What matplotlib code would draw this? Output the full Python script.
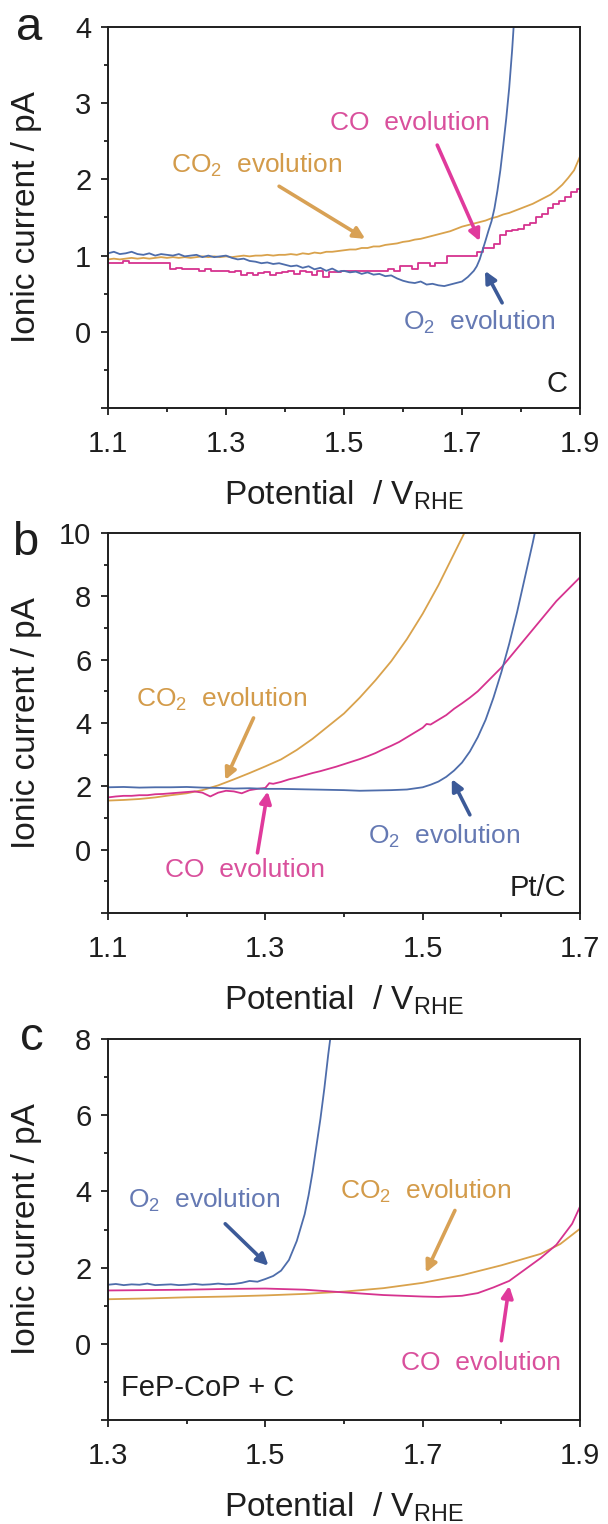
import matplotlib
matplotlib.use("Agg")
import matplotlib.pyplot as plt
import numpy as np
from matplotlib.ticker import FuncFormatter

plt.rcParams["font.family"] = ["Liberation Sans", "DejaVu Sans"]
plt.rcParams["mathtext.fontset"] = "custom"
plt.rcParams["mathtext.rm"] = "Liberation Sans"
plt.rcParams["mathtext.it"] = "Liberation Sans"

# colours of the three mass signals
BLUE, ORANGE, PINK = "#4e6dab", "#d9a24c", "#d6338f"
BLUE_ARR, ORANGE_ARR, PINK_ARR = "#3c5a98", "#d8a155", "#e03a9c"
BLUE_TXT, ORANGE_TXT, PINK_TXT = "#6579b3", "#d39b4a", "#d9509c"
INK = "#1e1e1e"

# ---------------- panel a : C ----------------
a_x = [round(1.10 + 0.01 * i, 2) for i in range(81)]
a_co2 = [0.95, 0.96, 0.95, 0.96, 0.97, 0.96, 0.97, 0.96, 0.97, 0.98,
         0.97, 0.98, 0.97, 0.98, 0.97, 0.98, 0.99, 0.98, 0.99, 0.98,
         0.99, 0.98, 0.99, 1.00, 0.99, 1.00, 1.00, 1.01, 1.00, 1.01,
         1.01, 1.02, 1.01, 1.03, 1.02, 1.04, 1.03, 1.05, 1.05, 1.06,
         1.07, 1.08, 1.08, 1.10, 1.10, 1.12, 1.12, 1.14, 1.15, 1.16,
         1.18, 1.19, 1.21, 1.22, 1.24, 1.26, 1.28, 1.30, 1.32, 1.35,
         1.38, 1.40, 1.42, 1.44, 1.46, 1.49, 1.51, 1.54, 1.56, 1.59,
         1.62, 1.65, 1.68, 1.72, 1.76, 1.80, 1.86, 1.93, 2.02, 2.12,
         2.30]
a_co = [0.90, 0.90, 0.90, 0.93, 0.90, 0.90, 0.90, 0.90, 0.90, 0.90,
        0.90, 0.82, 0.84, 0.82, 0.82, 0.83, 0.80, 0.82, 0.80, 0.80,
        0.80, 0.78, 0.80, 0.75, 0.77, 0.74, 0.77, 0.78, 0.74, 0.77,
        0.78, 0.80, 0.76, 0.80, 0.78, 0.75, 0.80, 0.72, 0.78, 0.78,
        0.80, 0.80, 0.80, 0.80, 0.80, 0.80, 0.80, 0.80, 0.83, 0.80,
        0.86, 0.86, 0.83, 0.90, 0.90, 0.86, 0.90, 0.90, 1.00, 1.00,
        1.00, 1.00, 1.00, 1.05, 1.10, 1.10, 1.15, 1.27, 1.32, 1.33,
        1.35, 1.40, 1.43, 1.50, 1.55, 1.62, 1.68, 1.72, 1.77, 1.84,
        1.88]
a_o2_x = [round(1.10 + 0.01 * i, 2) for i in range(63)] + [
    1.725, 1.73, 1.736, 1.74, 1.745, 1.75, 1.755, 1.76, 1.765, 1.77,
    1.775, 1.78, 1.785, 1.79]
a_o2 = [1.03, 1.05, 1.02, 1.03, 1.05, 1.02, 1.01, 1.03, 1.00, 1.02,
        1.01, 1.00, 1.02, 0.99, 1.00, 1.01, 0.98, 1.00, 0.98, 0.99,
        1.00, 0.97, 0.95, 0.96, 0.93, 0.92, 0.90, 0.91, 0.89, 0.90,
        0.88, 0.86, 0.87, 0.84, 0.86, 0.82, 0.84, 0.80, 0.83, 0.79,
        0.80, 0.78, 0.79, 0.76, 0.78, 0.75, 0.76, 0.73, 0.74, 0.70,
        0.67, 0.65, 0.64, 0.66, 0.62, 0.63, 0.61, 0.60, 0.62, 0.64,
        0.66, 0.72, 0.80,
        0.86, 0.95, 1.10, 1.20, 1.33, 1.45, 1.62, 1.85, 2.12, 2.45,
        2.80, 3.20, 3.70, 4.30]

# ---------------- panel b : Pt/C ----------------
b_co2_x = [1.10, 1.12, 1.14, 1.16, 1.18, 1.20, 1.22, 1.24, 1.26, 1.28,
           1.30, 1.32, 1.34, 1.36, 1.38, 1.40, 1.42, 1.44, 1.46, 1.48,
           1.50, 1.52, 1.54, 1.555]
b_co2 = [1.55, 1.57, 1.60, 1.65, 1.72, 1.78, 1.88, 2.03, 2.22, 2.42,
         2.63, 2.85, 3.15, 3.50, 3.90, 4.30, 4.80, 5.35, 5.95, 6.65,
         7.45, 8.35, 9.35, 10.10]
b_co_x = [1.10, 1.11, 1.12, 1.13, 1.14, 1.15, 1.16, 1.17, 1.18, 1.19,
          1.20, 1.21, 1.22, 1.23, 1.24, 1.25, 1.26, 1.27, 1.28, 1.29,
          1.30, 1.305, 1.31, 1.32, 1.33, 1.34, 1.35, 1.36, 1.37, 1.38,
          1.39, 1.40, 1.41, 1.42, 1.43, 1.44, 1.45, 1.46, 1.47, 1.48,
          1.49, 1.50, 1.505, 1.51, 1.52, 1.53, 1.54, 1.55, 1.56, 1.57,
          1.58, 1.59, 1.60, 1.61, 1.62, 1.63, 1.64, 1.65, 1.66, 1.67,
          1.68, 1.69, 1.70]
b_co = [1.65, 1.68, 1.70, 1.70, 1.72, 1.72, 1.75, 1.76, 1.78, 1.80,
        1.82, 1.84, 1.80, 1.68, 1.80, 1.86, 1.84, 1.78, 1.88, 1.92,
        1.95, 2.10, 2.08, 2.14, 2.22, 2.28, 2.35, 2.42, 2.48, 2.55,
        2.62, 2.70, 2.78, 2.86, 2.95, 3.05, 3.17, 3.28, 3.40, 3.55,
        3.70, 3.85, 3.97, 3.95, 4.10, 4.25, 4.45, 4.62, 4.80, 5.00,
        5.25, 5.50, 5.75, 6.05, 6.35, 6.65, 6.95, 7.25, 7.55, 7.85,
        8.10, 8.35, 8.60]
b_o2_x = [1.10, 1.12, 1.14, 1.16, 1.18, 1.20, 1.22, 1.24, 1.26, 1.28,
          1.30, 1.32, 1.34, 1.36, 1.38, 1.40, 1.42, 1.44, 1.46, 1.48,
          1.50, 1.51, 1.52, 1.53, 1.54, 1.55, 1.56, 1.57, 1.58, 1.59,
          1.60, 1.61, 1.62, 1.63, 1.64, 1.645]
b_o2 = [1.97, 1.98, 1.96, 1.97, 1.97, 1.98, 1.96, 1.95, 1.93, 1.94,
        1.92, 1.92, 1.91, 1.90, 1.89, 1.88, 1.86, 1.87, 1.88, 1.90,
        1.97, 2.05, 2.15, 2.30, 2.50, 2.75, 3.10, 3.55, 4.10, 4.80,
        5.60, 6.50, 7.50, 8.60, 9.70, 10.30]

# ---------------- panel c : FeP-CoP + C ----------------
c_o2_x = [1.30, 1.31, 1.32, 1.33, 1.34, 1.35, 1.36, 1.37, 1.38, 1.39,
          1.40, 1.41, 1.42, 1.43, 1.44, 1.45, 1.46, 1.47, 1.48, 1.49,
          1.50, 1.51, 1.52, 1.53, 1.54, 1.55, 1.555, 1.56, 1.565, 1.57,
          1.575, 1.58, 1.585]
c_o2 = [1.55, 1.57, 1.54, 1.56, 1.55, 1.58, 1.54, 1.55, 1.56, 1.54,
        1.55, 1.57, 1.55, 1.56, 1.58, 1.56, 1.57, 1.60, 1.65, 1.63,
        1.70, 1.78, 1.92, 2.20, 2.70, 3.40, 3.90, 4.50, 5.20, 5.90,
        6.70, 7.60, 8.40]
c_co2_x = [1.30, 1.35, 1.40, 1.45, 1.50, 1.55, 1.60, 1.65, 1.70, 1.75,
           1.80, 1.85, 1.875, 1.90]
c_co2 = [1.17, 1.19, 1.22, 1.24, 1.27, 1.31, 1.37, 1.46, 1.60, 1.80,
         2.06, 2.36, 2.62, 3.02]
c_co_x = [1.30, 1.35, 1.40, 1.45, 1.50, 1.55, 1.60, 1.65, 1.70, 1.72,
          1.75, 1.77, 1.79, 1.81, 1.83, 1.85, 1.87, 1.89, 1.90]
c_co = [1.40, 1.41, 1.42, 1.44, 1.45, 1.42, 1.35, 1.28, 1.24, 1.23,
        1.26, 1.33, 1.48, 1.65, 1.95, 2.25, 2.60, 3.15, 3.60]

W, H = 608, 1524
fig = plt.figure(figsize=(W / 100, H / 100), dpi=100)


def add_panel(left, top, right, bottom):
    return fig.add_axes([left / W, 1 - bottom / H, (right - left) / W, (bottom - top) / H])


def style(ax, xlim, ylim, ystep):
    ax.set_xlim(*xlim)
    ax.set_ylim(*ylim)
    xmaj = np.arange(xlim[0], xlim[1] + 1e-6, 0.2)
    ax.set_xticks(xmaj)
    ax.set_xticks(xmaj[:-1] + 0.1, minor=True)
    ymaj = np.arange(ylim[0], ylim[1] + 1e-6, ystep)
    ax.set_yticks(ymaj)
    ax.set_yticks(ymaj[:-1] + ystep / 2, minor=True)
    ax.xaxis.set_major_formatter(FuncFormatter(lambda v, p: f"{v:.1f}"))
    ax.yaxis.set_major_formatter(
        FuncFormatter(lambda v, p: "" if v < -1e-9 else f"{v:.0f}"))
    ax.tick_params(which="both", direction="out", colors=INK, width=1.3)
    ax.tick_params(which="major", length=5, labelsize=21)
    ax.tick_params(which="minor", length=3)
    ax.tick_params(axis="x", which="major", pad=11)
    ax.tick_params(axis="y", which="major", pad=7)
    for s in ax.spines.values():
        s.set_linewidth(1.4)
        s.set_color(INK)
    ax.set_ylabel("Ionic current / pA", fontsize=24, color=INK)
    ax.set_xlabel(r"Potential  / V$_\mathregular{RHE}$", fontsize=24, color=INK)
    ax.yaxis.set_label_coords(-0.14, 0.5)
    ax.xaxis.set_label_coords(0.5, -0.185)


def note(ax, text, x, y, color):
    ax.text(x, y, text, color=color, fontsize=19, ha="left", va="center")


def arrow(ax, tail, head, color):
    ax.annotate("", xy=head, xytext=tail,
                arrowprops=dict(arrowstyle="-|>", color=color, lw=2.6,
                                mutation_scale=17, shrinkA=0, shrinkB=0))


lw = 1.3

# panel a
ax = add_panel(108, 27, 580, 408)
ax.plot(a_x, a_co2, color=ORANGE, lw=lw)
ax.plot(a_x, a_co, color=PINK, lw=lw, drawstyle="steps-mid")
ax.plot(a_o2_x, a_o2, color=BLUE, lw=lw)
style(ax, (1.1, 1.9), (-1, 4), 1)
note(ax, "CO$_2$  evolution", 1.206, 2.18, ORANGE_TXT)
note(ax, "CO  evolution", 1.476, 2.74, PINK_TXT)
note(ax, "O$_2$  evolution", 1.60, 0.12, BLUE_TXT)
arrow(ax, (1.39, 1.91), (1.536, 1.22), ORANGE_ARR)
arrow(ax, (1.658, 2.45), (1.73, 1.19), PINK_ARR)
arrow(ax, (1.768, 0.38), (1.739, 0.80), BLUE_ARR)
ax.text(1.878, -0.68, "C", fontsize=21, color=INK, ha="right", va="center")
fig.text(16 / W, 1 - 40 / H, "a", fontsize=34, color=INK, ha="left", va="baseline")

# panel b
ax = add_panel(108, 533, 580, 913)
ax.plot(b_co2_x, b_co2, color=ORANGE, lw=lw)
ax.plot(b_co_x, b_co, color=PINK, lw=lw)
ax.plot(b_o2_x, b_o2, color=BLUE, lw=lw)
style(ax, (1.1, 1.7), (-2, 10), 2)
note(ax, "CO$_2$  evolution", 1.135, 4.74, ORANGE_TXT)
note(ax, "CO  evolution", 1.172, -0.63, PINK_TXT)
note(ax, "O$_2$  evolution", 1.43, 0.42, BLUE_TXT)
arrow(ax, (1.285, 4.16), (1.249, 2.2), ORANGE_ARR)
arrow(ax, (1.29, -0.1), (1.303, 1.84), PINK_ARR)
arrow(ax, (1.56, 1.1), (1.537, 2.23), BLUE_ARR)
ax.text(1.683, -1.21, "Pt/C", fontsize=21, color=INK, ha="right", va="center")
fig.text(12 / W, 1 - 555 / H, "b", fontsize=34, color=INK, ha="left", va="baseline")

# panel c
ax = add_panel(108, 1039, 580, 1420)
ax.plot(c_co2_x, c_co2, color=ORANGE, lw=lw)
ax.plot(c_co_x, c_co, color=PINK, lw=lw)
ax.plot(c_o2_x, c_o2, color=BLUE, lw=lw)
style(ax, (1.3, 1.9), (-2, 8), 2)
note(ax, "O$_2$  evolution", 1.326, 3.77, BLUE_TXT)
note(ax, "CO$_2$  evolution", 1.595, 3.99, ORANGE_TXT)
note(ax, "CO  evolution", 1.672, -0.51, PINK_TXT)
arrow(ax, (1.449, 3.15), (1.504, 2.05), BLUE_ARR)
arrow(ax, (1.741, 3.5), (1.704, 1.87), ORANGE_ARR)
arrow(ax, (1.80, 0.08), (1.81, 1.52), PINK_ARR)
ax.text(1.316, -1.17, "FeP-CoP + C", fontsize=21, color=INK, ha="left", va="center")
fig.text(20 / W, 1 - 1050 / H, "c", fontsize=34, color=INK, ha="left", va="baseline")

fig.savefig("out.png", dpi=100)
